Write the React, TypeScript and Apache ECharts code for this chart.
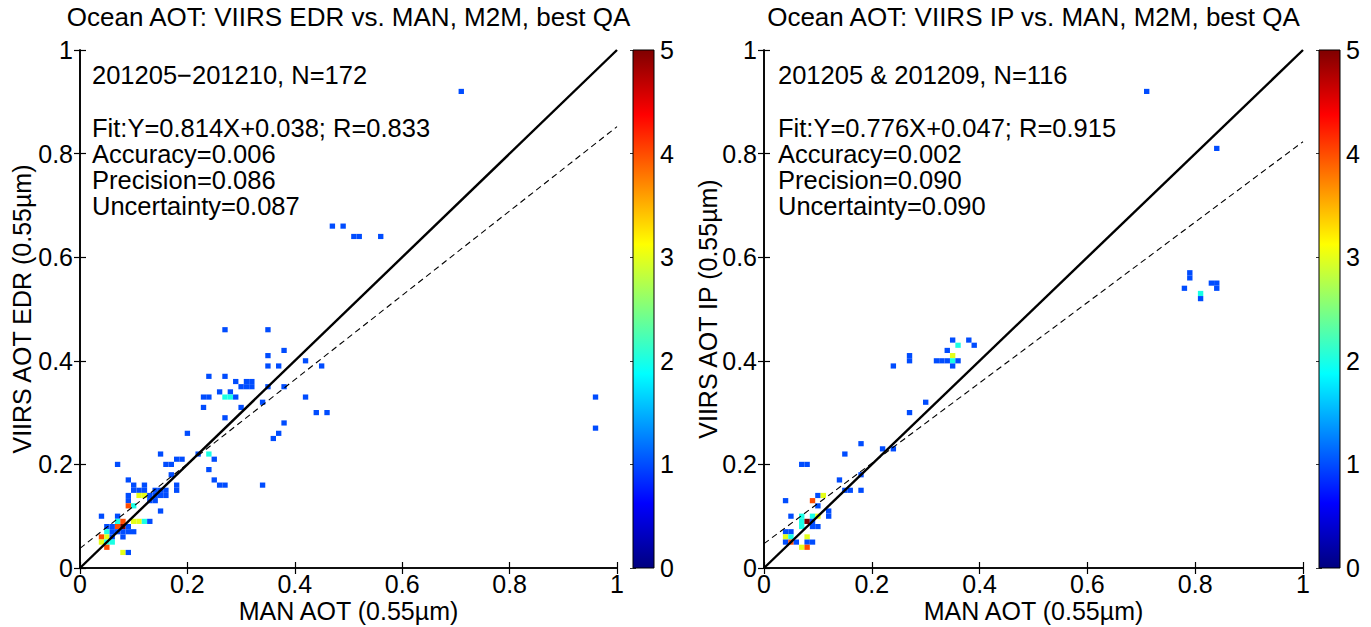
import React, { useEffect, useRef } from "react";
import * as echarts from "echarts";

const FONT = "Liberation Sans, Arial, Helvetica, sans-serif";
const FS_TICK = 25;
const FS_TITLE = 26;
const FS_STATS = 25.5;
const FS_NAME = 25;

const colorbarRange = [0, 5];

const edrTitle = "Ocean AOT: VIIRS EDR vs. MAN, M2M, best QA";
const ipTitle = "Ocean AOT: VIIRS IP vs. MAN, M2M, best QA";
const xName = "MAN AOT (0.55µm)";
const edrYName = "VIIRS AOT EDR (0.55µm)";
const ipYName = "VIIRS AOT IP (0.55µm)";

const edrStats = ["201205−201210, N=172", "", "Fit:Y=0.814X+0.038; R=0.833", "Accuracy=0.006", "Precision=0.086", "Uncertainty=0.087"];
const ipStats = ["201205 & 201209, N=116", "", "Fit:Y=0.776X+0.047; R=0.915", "Accuracy=0.002", "Precision=0.090", "Uncertainty=0.090"];

const edrFit = { slope: 0.814, intercept: 0.038 };
const ipFit = { slope: 0.776, intercept: 0.047 };

// density cells: [MAN AOT, VIIRS AOT, count]
const edrCells = [
  [0.71, 0.92, 1],
  [0.47, 0.66, 1], [0.49, 0.66, 1], [0.51, 0.64, 1], [0.52, 0.64, 1], [0.56, 0.64, 1],
  [0.96, 0.33, 1], [0.96, 0.27, 1],
  [0.27, 0.46, 1], [0.35, 0.46, 1], [0.35, 0.41, 1], [0.38, 0.42, 1], [0.35, 0.39, 1], [0.37, 0.39, 1],
  [0.42, 0.40, 1], [0.45, 0.39, 1], [0.42, 0.33, 1], [0.44, 0.30, 1], [0.46, 0.30, 1], [0.38, 0.35, 1],
  [0.35, 0.35, 1], [0.34, 0.32, 1], [0.38, 0.28, 1], [0.37, 0.26, 1], [0.36, 0.25, 1], [0.34, 0.16, 1],
  [0.24, 0.37, 1], [0.27, 0.37, 1], [0.29, 0.36, 1], [0.31, 0.36, 1], [0.32, 0.36, 1], [0.30, 0.35, 1],
  [0.31, 0.35, 1], [0.32, 0.35, 1], [0.26, 0.34, 1], [0.28, 0.34, 1], [0.23, 0.33, 1], [0.24, 0.33, 1],
  [0.27, 0.33, 2], [0.28, 0.33, 2], [0.29, 0.33, 1], [0.23, 0.31, 1], [0.30, 0.31, 1], [0.27, 0.29, 1],
  [0.20, 0.26, 1], [0.22, 0.22, 1], [0.24, 0.22, 2], [0.25, 0.21, 1], [0.24, 0.19, 1], [0.25, 0.17, 1],
  [0.26, 0.16, 1], [0.27, 0.16, 1],
  [0.15, 0.22, 1], [0.16, 0.20, 1], [0.17, 0.20, 1], [0.18, 0.21, 1], [0.19, 0.21, 1], [0.17, 0.18, 1],
  [0.18, 0.16, 1], [0.18, 0.15, 1],
  [0.07, 0.20, 1], [0.09, 0.17, 1], [0.10, 0.16, 1], [0.12, 0.16, 1], [0.10, 0.15, 1], [0.11, 0.15, 1],
  [0.12, 0.15, 1], [0.11, 0.14, 3], [0.12, 0.14, 3], [0.09, 0.14, 1], [0.09, 0.13, 1], [0.09, 0.12, 4],
  [0.10, 0.12, 2],
  [0.14, 0.15, 1], [0.15, 0.15, 1], [0.16, 0.15, 1], [0.13, 0.14, 1], [0.14, 0.14, 1], [0.15, 0.14, 1],
  [0.16, 0.14, 1], [0.13, 0.13, 1], [0.14, 0.13, 1], [0.15, 0.11, 1],
  [0.04, 0.10, 1], [0.07, 0.10, 1], [0.07, 0.09, 2], [0.08, 0.09, 4], [0.10, 0.09, 3], [0.11, 0.09, 3],
  [0.12, 0.09, 2], [0.13, 0.09, 1],
  [0.05, 0.08, 1], [0.06, 0.08, 1], [0.07, 0.08, 4], [0.08, 0.08, 5], [0.09, 0.08, 1],
  [0.05, 0.07, 2], [0.06, 0.07, 1], [0.07, 0.07, 1], [0.08, 0.07, 1], [0.09, 0.07, 1], [0.10, 0.07, 1],
  [0.04, 0.06, 4], [0.05, 0.06, 3], [0.06, 0.06, 1], [0.08, 0.06, 1],
  [0.04, 0.05, 3], [0.05, 0.05, 2], [0.06, 0.05, 2],
  [0.05, 0.04, 4],
  [0.08, 0.03, 3], [0.09, 0.03, 1],
];

const ipCells = [
  [0.71, 0.92, 1], [0.84, 0.81, 1], [0.79, 0.57, 1], [0.79, 0.56, 1], [0.78, 0.54, 1], [0.81, 0.53, 2],
  [0.81, 0.52, 1], [0.83, 0.55, 1], [0.84, 0.55, 1], [0.84, 0.54, 1],
  [0.35, 0.44, 1], [0.36, 0.43, 2], [0.38, 0.44, 1], [0.39, 0.43, 1], [0.34, 0.42, 1], [0.35, 0.41, 3],
  [0.35, 0.40, 2], [0.34, 0.40, 1], [0.33, 0.40, 1], [0.32, 0.40, 1], [0.35, 0.39, 1], [0.36, 0.40, 1],
  [0.27, 0.41, 1], [0.27, 0.40, 1], [0.24, 0.39, 1],
  [0.30, 0.32, 1], [0.27, 0.30, 1], [0.18, 0.24, 1], [0.15, 0.22, 1], [0.22, 0.23, 1], [0.24, 0.23, 1],
  [0.07, 0.20, 1], [0.08, 0.20, 1], [0.14, 0.17, 1], [0.18, 0.18, 1], [0.15, 0.15, 1], [0.16, 0.15, 1],
  [0.18, 0.15, 1],
  [0.04, 0.13, 1], [0.09, 0.13, 4], [0.10, 0.14, 1], [0.11, 0.14, 3], [0.10, 0.12, 1], [0.12, 0.11, 1],
  [0.12, 0.10, 1],
  [0.05, 0.10, 1], [0.07, 0.10, 2], [0.09, 0.10, 2], [0.10, 0.10, 3],
  [0.07, 0.09, 2], [0.08, 0.09, 5], [0.09, 0.09, 1],
  [0.07, 0.08, 2], [0.09, 0.08, 1], [0.10, 0.08, 1],
  [0.04, 0.07, 1], [0.05, 0.07, 1],
  [0.04, 0.06, 3], [0.05, 0.06, 2], [0.08, 0.06, 3],
  [0.04, 0.05, 1], [0.05, 0.05, 4], [0.06, 0.05, 1], [0.08, 0.05, 1], [0.09, 0.05, 1],
  [0.07, 0.04, 3], [0.08, 0.04, 4],
];

const jet = ["#00007F", "#0000FF", "#007FFF", "#00FFFF", "#7FFF7F", "#FFFF00", "#FF7F00", "#FF0000", "#7F0000"];
const CELL = 0.01;

const panels = [
  { left: 80, width: 537, cbLeft: 633, yNameX: 22, textX: 92, title: edrTitle, yName: edrYName, stats: edrStats, fit: edrFit, cells: edrCells },
  { left: 764, width: 539, cbLeft: 1319, yNameX: 708, textX: 778, title: ipTitle, yName: ipYName, stats: ipStats, fit: ipFit, cells: ipCells },
];
const TOP = 50;
const HEIGHT = 518;
const CBW = 21;

function cellRender(params: any, api: any) {
  const x = api.value(0);
  const y = api.value(1);
  const p0 = api.coord([x - CELL / 2, y + CELL / 2]);
  const p1 = api.coord([x + CELL / 2, y - CELL / 2]);
  return {
    type: "rect",
    shape: { x: p0[0], y: p0[1], width: p1[0] - p0[0], height: p1[1] - p0[1] },
    style: { fill: api.visual("color") },
  };
}

function colorbarRender(params: any, api: any) {
  const p0 = api.coord([0, colorbarRange[1]]);
  const p1 = api.coord([1, colorbarRange[0]]);
  return {
    type: "rect",
    shape: { x: p0[0], y: p0[1], width: p1[0] - p0[0], height: p1[1] - p0[1] },
    style: {
      fill: new echarts.graphic.LinearGradient(0, 1, 0, 0, jet.map((c, i) => ({ offset: i / (jet.length - 1), color: c }))),
      stroke: "#000",
      lineWidth: 1,
    },
  };
}

export default function App() {
  const ref = useRef<HTMLDivElement>(null);
  useEffect(() => {
    if (!ref.current) return;
    const chart = echarts.init(ref.current, null, { renderer: "svg" });
    const grids: any[] = [];
    const xAxes: any[] = [];
    const yAxes: any[] = [];
    const series: any[] = [];
    const visualMaps: any[] = [];
    const graphics: any[] = [];

    const line = { show: true, lineStyle: { color: "#000", width: 1.6 } };
    const tickIn = { show: true, inside: true, length: 6, lineStyle: { color: "#000", width: 1.2 } };
    const lbl = { show: true, color: "#000", fontSize: FS_TICK, fontFamily: FONT };

    panels.forEach((p) => {
      const g = grids.length;
      grids.push({ left: p.left, top: TOP, width: p.width, height: HEIGHT, show: false });
      grids.push({ left: p.cbLeft, top: TOP, width: CBW, height: HEIGHT, show: false });
      const xb = xAxes.length;
      xAxes.push({ gridIndex: g, type: "value", min: 0, max: 1, interval: 0.2, position: "bottom", axisLine: line, axisTick: tickIn, axisLabel: { ...lbl, margin: 3 }, splitLine: { show: false } });
      xAxes.push({ gridIndex: g, type: "value", min: 0, max: 1, interval: 0.2, position: "top", axisLine: line, axisTick: tickIn, axisLabel: { show: false }, splitLine: { show: false } });
      xAxes.push({ gridIndex: g + 1, type: "value", min: 0, max: 1, show: false });
      const yb = yAxes.length;
      yAxes.push({ gridIndex: g, type: "value", min: 0, max: 1, interval: 0.2, position: "left", axisLine: line, axisTick: tickIn, axisLabel: { ...lbl, margin: 7 }, splitLine: { show: false } });
      yAxes.push({ gridIndex: g, type: "value", min: 0, max: 1, interval: 0.2, position: "right", axisLine: line, axisTick: tickIn, axisLabel: { show: false }, splitLine: { show: false } });
      yAxes.push({ gridIndex: g + 1, type: "value", min: colorbarRange[0], max: colorbarRange[1], interval: 1, position: "right", axisLine: { show: false }, axisTick: { show: true, inside: true, length: 3, lineStyle: { color: "#333", width: 1 } }, axisLabel: { ...lbl, margin: 6 }, splitLine: { show: false } });
      yAxes.push({ gridIndex: g + 1, type: "value", min: colorbarRange[0], max: colorbarRange[1], interval: 1, position: "left", axisLine: { show: false }, axisTick: { show: true, inside: true, length: 3, lineStyle: { color: "#333", width: 1 } }, axisLabel: { show: false }, splitLine: { show: false } });

      const sIdx = series.length;
      series.push({
        type: "custom", xAxisIndex: xb, yAxisIndex: yb, data: p.cells, renderItem: cellRender,
        encode: { x: 0, y: 1 }, clip: true, z: 2,
      });
      visualMaps.push({ show: false, type: "continuous", seriesIndex: sIdx, dimension: 2, min: colorbarRange[0], max: colorbarRange[1], inRange: { color: jet } });
      series.push({
        type: "line", xAxisIndex: xb, yAxisIndex: yb, symbol: "none", silent: true, z: 4,
        data: [[0, p.fit.intercept], [1, p.fit.slope + p.fit.intercept]],
        lineStyle: { color: "#000", width: 1.1, type: [6, 4] },
      });
      series.push({
        type: "line", xAxisIndex: xb, yAxisIndex: yb, symbol: "none", silent: true, z: 5,
        data: [[0, 0], [1, 1]],
        lineStyle: { color: "#000", width: 2.4 },
      });
      series.push({
        type: "custom", xAxisIndex: xb + 2, yAxisIndex: yb + 2, data: [[0, 0]], renderItem: colorbarRender, silent: true,
      });

      const cx = p.left + p.width / 2;
      graphics.push({ type: "text", x: cx, y: 17, style: { text: p.title, fill: "#000", font: `${FS_TITLE}px ${FONT}`, textAlign: "center", textVerticalAlign: "middle" } });
      graphics.push({ type: "text", x: cx, y: 611, style: { text: xName, fill: "#000", font: `${FS_NAME}px ${FONT}`, textAlign: "center", textVerticalAlign: "middle" } });
      graphics.push({ type: "text", x: p.yNameX, y: TOP + HEIGHT / 2, rotation: Math.PI / 2, style: { text: p.yName, fill: "#000", font: `${FS_NAME}px ${FONT}`, textAlign: "center", textVerticalAlign: "middle" } });
      const ys = [75, 101, 128, 154, 180, 206];
      p.stats.forEach((s, i) => {
        if (!s) return;
        graphics.push({ type: "text", x: p.textX, y: ys[i], style: { text: s, fill: "#000", font: `${FS_STATS}px ${FONT}`, textAlign: "left", textVerticalAlign: "middle" } });
      });
    });

    chart.setOption({
      animation: false,
      backgroundColor: "#fff",
      grid: grids,
      xAxis: xAxes,
      yAxis: yAxes,
      visualMap: visualMaps,
      series,
      graphic: graphics,
    });
    return () => chart.dispose();
  }, []);
  return <div ref={ref} style={{ position: "fixed", left: 0, top: 0, width: 1371, height: 627 }} />;
}
